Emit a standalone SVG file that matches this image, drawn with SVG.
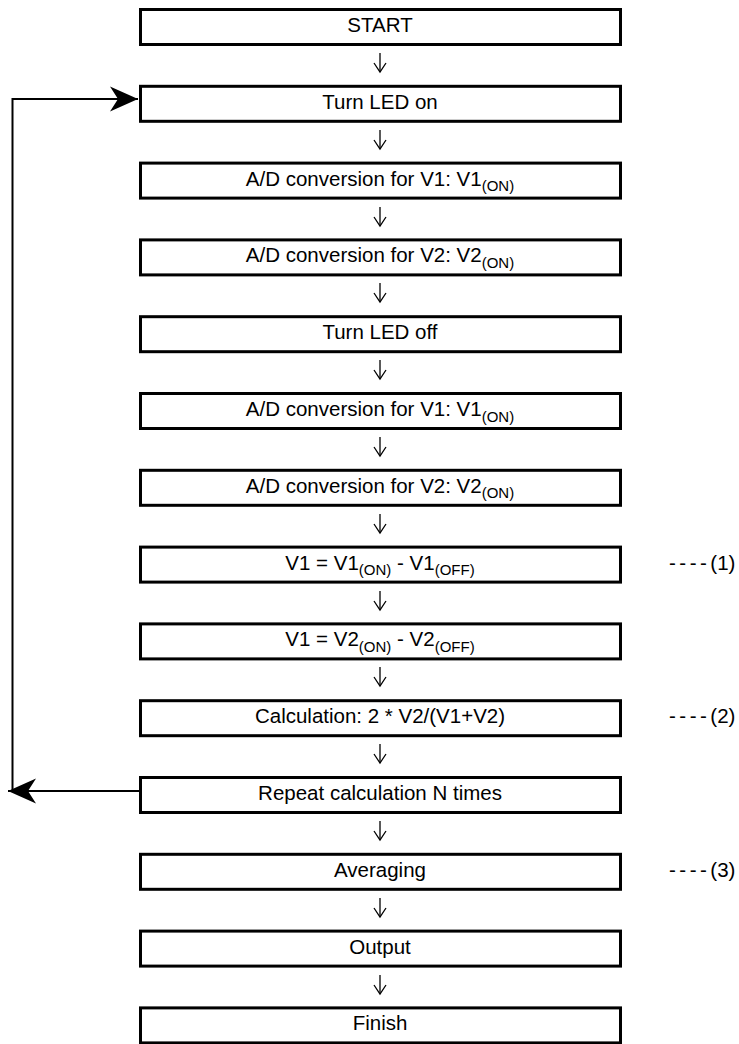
<svg xmlns="http://www.w3.org/2000/svg" width="739" height="1044" viewBox="0 0 739 1044">
<style>
.box{fill:#fff;stroke:#000;stroke-width:3}
.t{font-family:"Liberation Sans",Arial,sans-serif;font-size:20.5px;fill:#000;text-anchor:middle}
.s{font-size:15px}
.lbl{font-family:"Liberation Sans",Arial,sans-serif;font-size:20.5px;fill:#000}
.flow{fill:none;stroke:#000;stroke-width:1.3}
.loop{fill:none;stroke:#000;stroke-width:2}
</style>
<defs>
<marker id="open" markerUnits="userSpaceOnUse" markerWidth="12" markerHeight="14" refX="10" refY="7" orient="auto" overflow="visible">
<path d="M1,1 L10,7 L1,13" fill="none" stroke="#000" stroke-width="1.3"/>
</marker>
<marker id="barb" markerUnits="userSpaceOnUse" markerWidth="30" markerHeight="26" refX="28" refY="12.5" orient="auto" overflow="visible">
<path d="M0,0 L28,12.5 L0,25 L8,12.5 Z" fill="#000"/>
</marker>
</defs>
<g id="connectors">
<path class="flow" marker-end="url(#open)" d="M380,53 V72"/>
<path class="flow" marker-end="url(#open)" d="M380,130 V149"/>
<path class="flow" marker-end="url(#open)" d="M380,207 V226"/>
<path class="flow" marker-end="url(#open)" d="M380,283 V302"/>
<path class="flow" marker-end="url(#open)" d="M380,360 V379"/>
<path class="flow" marker-end="url(#open)" d="M380,437 V456"/>
<path class="flow" marker-end="url(#open)" d="M380,514 V533"/>
<path class="flow" marker-end="url(#open)" d="M380,591 V610"/>
<path class="flow" marker-end="url(#open)" d="M380,667 V686"/>
<path class="flow" marker-end="url(#open)" d="M380,744 V763"/>
<path class="flow" marker-end="url(#open)" d="M380,821 V840"/>
<path class="flow" marker-end="url(#open)" d="M380,898 V917"/>
<path class="flow" marker-end="url(#open)" d="M380,975 V994"/>
<path class="loop" marker-end="url(#barb)" d="M139,791 H8"/>
<path class="loop" marker-end="url(#barb)" d="M12.5,791 V99 H138"/>
</g>
<g id="n0"><rect class="box" x="140.5" y="9.5" width="480" height="35"/><text class="t" x="380" y="32">START</text></g>
<g id="n1"><rect class="box" x="140.5" y="86.3" width="480" height="35"/><text class="t" x="380" y="108.8">Turn LED on</text></g>
<g id="n2"><rect class="box" x="140.5" y="163.1" width="480" height="35"/><text class="t" x="380" y="185.6">A/D conversion for V1: V1<tspan class="s" dy="5.5">(ON)</tspan></text></g>
<g id="n3"><rect class="box" x="140.5" y="239.9" width="480" height="35"/><text class="t" x="380" y="262.4">A/D conversion for V2: V2<tspan class="s" dy="5.5">(ON)</tspan></text></g>
<g id="n4"><rect class="box" x="140.5" y="316.7" width="480" height="35"/><text class="t" x="380" y="339.2">Turn LED off</text></g>
<g id="n5"><rect class="box" x="140.5" y="393.5" width="480" height="35"/><text class="t" x="380" y="416">A/D conversion for V1: V1<tspan class="s" dy="5.5">(ON)</tspan></text></g>
<g id="n6"><rect class="box" x="140.5" y="470.3" width="480" height="35"/><text class="t" x="380" y="492.8">A/D conversion for V2: V2<tspan class="s" dy="5.5">(ON)</tspan></text></g>
<g id="n7"><rect class="box" x="140.5" y="547.1" width="480" height="35"/><text class="t" x="380" y="569.6">V1 = V1<tspan class="s" dy="5.5">(ON)</tspan><tspan dy="-5.5"> - V1</tspan><tspan class="s" dy="5.5">(OFF)</tspan></text></g>
<g id="n8"><rect class="box" x="140.5" y="623.9" width="480" height="35"/><text class="t" x="380" y="646.4">V1 = V2<tspan class="s" dy="5.5">(ON)</tspan><tspan dy="-5.5"> - V2</tspan><tspan class="s" dy="5.5">(OFF)</tspan></text></g>
<g id="n9"><rect class="box" x="140.5" y="700.7" width="480" height="35"/><text class="t" x="380" y="723.2">Calculation: 2 * V2/(V1+V2)</text></g>
<g id="n10"><rect class="box" x="140.5" y="777.5" width="480" height="35"/><text class="t" x="380" y="800">Repeat calculation N times</text></g>
<g id="n11"><rect class="box" x="140.5" y="854.3" width="480" height="35"/><text class="t" x="380" y="876.8">Averaging</text></g>
<g id="n12"><rect class="box" x="140.5" y="931.1" width="480" height="35"/><text class="t" x="380" y="953.6">Output</text></g>
<g id="n13"><rect class="box" x="140.5" y="1007.9" width="480" height="35"/><text class="t" x="380" y="1030.4">Finish</text></g>
<g id="labels">
<text class="lbl" x="669" y="569.6"><tspan letter-spacing="3.5">----</tspan>(1)</text>
<text class="lbl" x="669" y="723.2"><tspan letter-spacing="3.5">----</tspan>(2)</text>
<text class="lbl" x="669" y="876.8"><tspan letter-spacing="3.5">----</tspan>(3)</text>
</g>
</svg>
